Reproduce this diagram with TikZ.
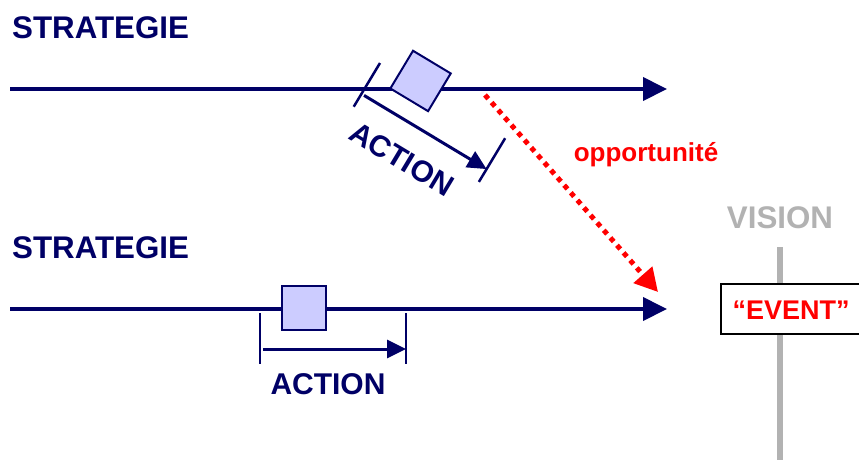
\documentclass[tikz,border=0pt]{standalone}
\usepackage{fontspec}
\setmainfont{Liberation Sans}
\usetikzlibrary{arrows.meta}
\definecolor{navy}{RGB}{0,0,102}
\definecolor{lav}{RGB}{204,204,255}
\definecolor{vgray}{RGB}{178,178,178}
\definecolor{vred}{RGB}{255,0,0}
\tikzset{
  mainline/.style={navy, line width=4pt, -{Triangle[length=24pt,width=23pt]}},
  tickline/.style={navy, line width=2.5pt},
  actarrow/.style={navy, line width=3pt, -{Triangle[length=19pt,width=18pt]}},
  sqbox/.style={draw=navy, fill=lav, line width=2pt, minimum size=44pt, inner sep=0pt},
  bigtxt/.style={font=\bfseries\fontsize{30}{36}\selectfont, inner sep=0pt},
  headtxt/.style={font=\bfseries\fontsize{31.3}{37}\selectfont, inner sep=0pt},
  navytxt/.style={bigtxt, text=navy},
}
\begin{document}
\begin{tikzpicture}[x=1pt,y=-1pt]
\useasboundingbox (0,0) rectangle (859,459);
\clip (0,0) rectangle (859,459);
% labels
\node[headtxt, text=navy, anchor=west] (s1) at (12,27.5) {STRATEGIE};
\node[headtxt, text=navy, anchor=west] (s2) at (12,248) {STRATEGIE};
% main lines
\coordinate (l1s) at (10,89);
\coordinate (l1e) at (667,89);
\coordinate (l2s) at (10,309);
\coordinate (l2e) at (667,309);
\draw[mainline] (l1s) -- (l1e);
\draw[mainline] (l2s) -- (l2e);
% vision line
\coordinate (vt) at (780,247);
\coordinate (vb) at (780,462);
\draw[vgray, line width=6pt] (vt) -- (vb);
\node[headtxt, text=vgray] (vision) at (780,218) {VISION};
\node[draw=black, fill=white, line width=2pt, minimum width=150pt, minimum height=50pt, anchor=north west, inner sep=0pt] (evbox) at (720,283) {};
\node[font=\bfseries\fontsize{27}{32}\selectfont, text=vred, inner sep=0pt] (event) at (791,310) {“EVENT”};
% top action group (rotated)
\begin{scope}[shift={(380,63)}, rotate=-31, transform shape]
  \coordinate (at1) at (0,0);
  \coordinate (ab1) at (0,51);
  \coordinate (at2) at (146,0);
  \coordinate (ab2) at (146,51);
  \coordinate (aa1) at (3,36);
  \coordinate (aa2) at (146,36);
  \node[sqbox] (sq1) at (44,-5.5) {};
  \draw[tickline] (at1) -- (ab1);
  \draw[tickline] (at2) -- (ab2);
  \draw[actarrow] (aa1) -- (aa2);
  \node[navytxt] (act1) at (68,71) {ACTION};
\end{scope}
% bottom action group
\begin{scope}[shift={(260,313)}]
  \coordinate (bt1) at (0,0);
  \coordinate (bb1) at (0,51);
  \coordinate (bt2) at (146,0);
  \coordinate (bb2) at (146,51);
  \coordinate (ba1) at (3,36);
  \coordinate (ba2) at (146,36);
  \node[sqbox] (sq2) at (44,-5.5) {};
  \draw[tickline] (bt1) -- (bb1);
  \draw[tickline] (bt2) -- (bb2);
  \draw[actarrow] (ba1) -- (ba2);
  \node[navytxt] (act2) at (68,71) {ACTION};
\end{scope}
% opportunity arrow
\coordinate (r1) at (485,95);
\coordinate (r2) at (658,292);
\draw[vred, line width=5pt, dash pattern=on 5pt off 5pt, -{Triangle[length=23pt,width=24pt]}] (r1) -- (r2);
\node[font=\bfseries\fontsize{26}{31}\selectfont, text=vred, inner sep=0pt] (opp) at (646,155) {opportunité};
\end{tikzpicture}
\end{document}
